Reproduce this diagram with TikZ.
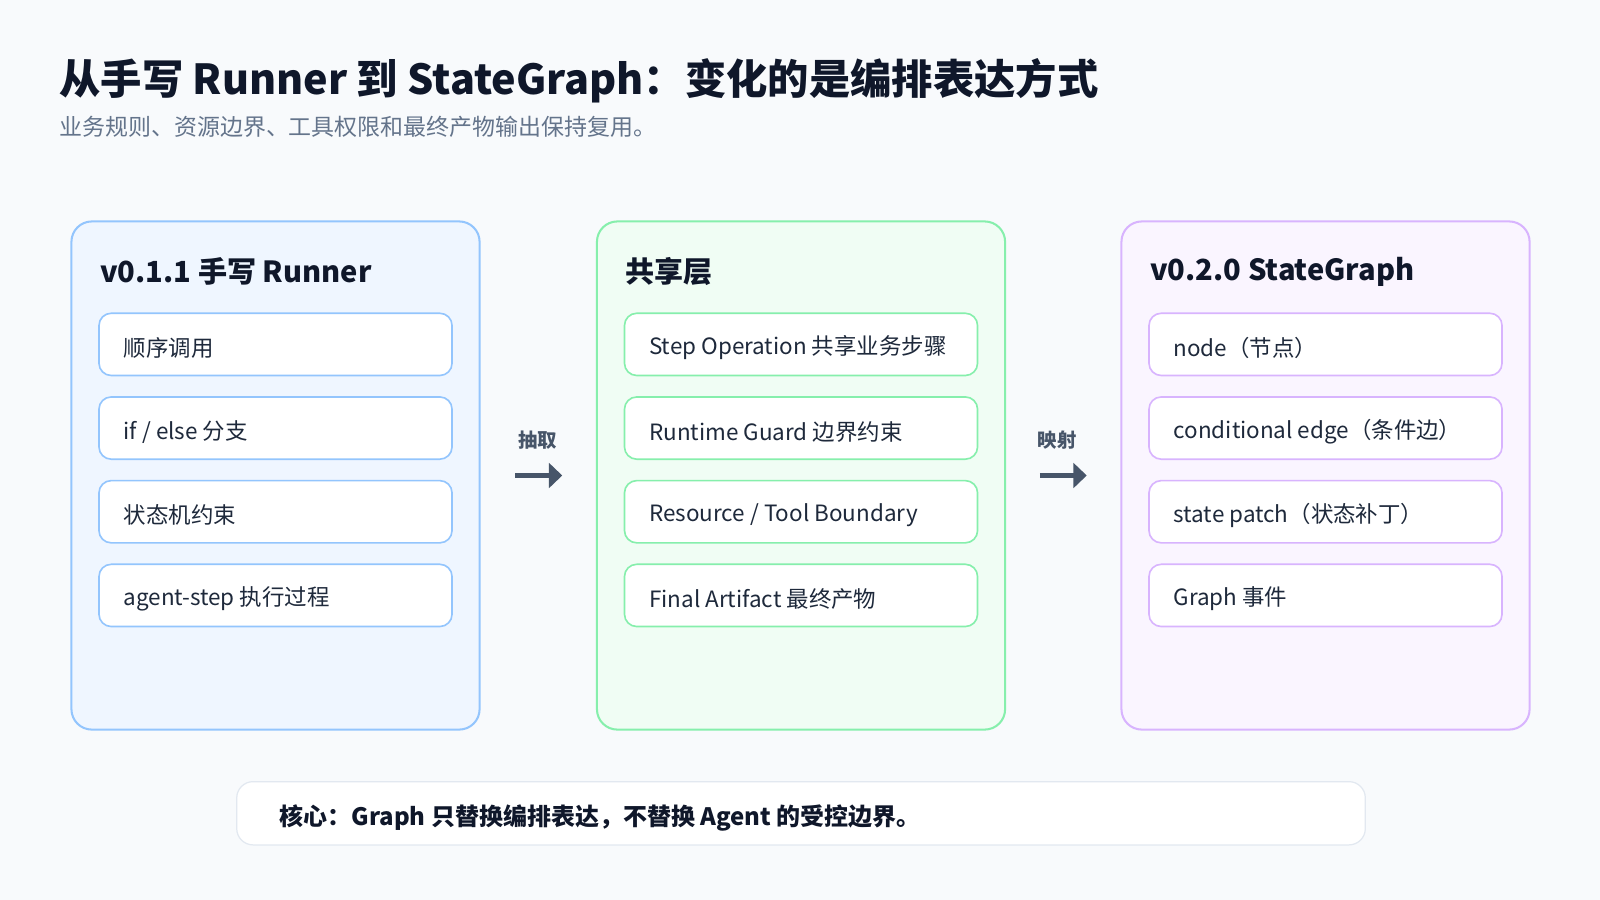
\documentclass[tikz,border=0pt]{standalone}
\usepackage{fontspec}
\setmainfont{Noto Sans CJK SC}
\usetikzlibrary{arrows.meta}
\definecolor{bg}{HTML}{F8FAFC}
\definecolor{ink}{HTML}{0F172A}
\definecolor{sub}{HTML}{64748B}
\definecolor{txt}{HTML}{1E293B}
\definecolor{arr}{HTML}{475569}
\definecolor{bF}{HTML}{EFF6FF}\definecolor{bD}{HTML}{93C5FD}
\definecolor{gF}{HTML}{F0FDF4}\definecolor{gD}{HTML}{86EFAC}
\definecolor{pF}{HTML}{FAF5FF}\definecolor{pD}{HTML}{D8B4FE}
\definecolor{fD}{HTML}{E2E8F0}
\begin{document}
\begin{tikzpicture}[x=1pt,y=-1pt,
 every node/.style={inner sep=0pt},
 panel/.style={draw=#1,line width=2pt,rounded corners=20pt},
 item/.style={draw=#1,fill=white,line width=1.6pt,rounded corners=12pt},
 itxt/.style={anchor=west,text=txt,font=\fontsize{22}{24}\selectfont},
 ptitle/.style={anchor=west,text=ink,font=\fontsize{28.5}{32}\selectfont\bfseries},
 alab/.style={text=arr,font=\fontsize{19}{22}\selectfont\bfseries},
 arrow/.style={-{Triangle[length=13pt,width=24pt]},line width=4pt,draw=arr}]
\fill[bg] (0,0) rectangle (1568,882);
\useasboundingbox (0,0) rectangle (1568,882);
\node[anchor=west,text=ink,font=\fontsize{40.5}{46}\selectfont\bfseries] (title) at (58,79) {从手写 Runner 到 StateGraph：变化的是编排表达方式};
\node[anchor=west,text=sub,font=\fontsize{22.5}{26}\selectfont] (subt) at (58,124) {业务规则、资源边界、工具权限和最终产物输出保持复用。};
% panels
\foreach \x/\f/\d in {70/bF/bD,585/gF/gD,1099/pF/pD}{
  \draw[panel=\d,fill=\f] (\x,217) rectangle ++(400,498);
  \foreach \y in {307,389,471,553}{
    \draw[item=\d] (\x+27,\y) rectangle ++(346,61);
  }
}
\node[ptitle] (tL) at (98,266) {v0.1.1 手写 Runner};
\node[ptitle] (tM) at (613,266) {共享层};
\node[ptitle] (tR) at (1127,266) {v0.2.0 StateGraph};
\node[itxt] (l1) at (121,341) {顺序调用};
\node[itxt] (l2) at (121,423) {if / else 分支};
\node[itxt] (l3) at (121,505) {状态机约束};
\node[itxt] (l4) at (121,587) {agent-step 执行过程};
\node[itxt] (m1) at (636,341) {Step Operation 共享业务步骤};
\node[itxt] (m2) at (636,423) {Runtime Guard 边界约束};
\node[itxt] (m3) at (636,505) {Resource / Tool Boundary};
\node[itxt] (m4) at (636,587) {Final Artifact 最终产物};
\node[itxt] (r1) at (1150,341) {node（节点）};
\node[itxt] (r2) at (1150,423) {conditional edge（条件边）};
\node[itxt] (r3) at (1150,505) {state patch（状态补丁）};
\node[itxt] (r4) at (1150,587) {Graph 事件};
% arrows
\node[alab] (a1) at (527,431) {抽取};
\coordinate (a1s) at (505,466); \coordinate (a1e) at (551,466);
\draw[arrow] (a1s) -- (a1e);
\node[alab] (a2) at (1036,431) {映射};
\coordinate (a2s) at (1019,466); \coordinate (a2e) at (1065,466);
\draw[arrow] (a2s) -- (a2e);
% footer
\draw[draw=fD,fill=white,line width=1.2pt,rounded corners=16pt] (232,766) rectangle (1338,828);
\node[anchor=west,text=ink,font=\fontsize{23.5}{26}\selectfont\bfseries] (foot) at (274,802) {核心：Graph 只替换编排表达，不替换 Agent 的受控边界。};
\end{tikzpicture}
\end{document}
